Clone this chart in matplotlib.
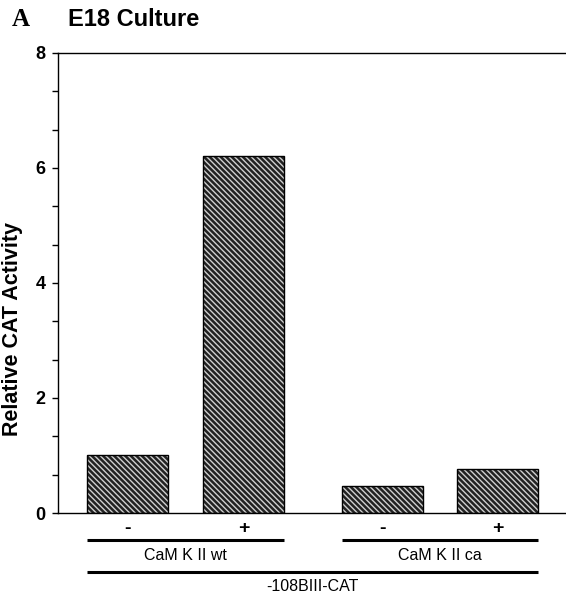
import matplotlib.pyplot as plt
import matplotlib.transforms as mtransforms
from matplotlib.ticker import MultipleLocator

plt.rcParams["font.family"] = ["Liberation Sans", "DejaVu Sans"]

# data
treatment = ["-", "+", "-", "+"]
groups = ["CaM K II wt", "CaM K II ca"]
activity = [1.0, 6.2, 0.47, 0.77]
positions = [0.0, 1.0, 2.2, 3.19]
group_members = [[0, 1], [2, 3]]
construct = "-108BIII-CAT"

fig = plt.figure(figsize=(5.66, 6.0), dpi=100)
ax = fig.add_axes([0.1025, 0.145, 0.8975, 0.767])

width = 0.7
# hatched fill first, then plain black outline on top
ax.bar(positions, activity, width=width, color="#222222", edgecolor="#d0d0d0",
       hatch="\\\\\\\\\\\\", linewidth=0)
ax.bar(positions, activity, width=width, color="none", edgecolor="black", linewidth=1.0)

ax.set_xlim(-0.6, 3.78)
ax.set_ylim(0, 8)
ax.set_xticks([])
ax.yaxis.set_major_locator(MultipleLocator(2))
ax.yaxis.set_minor_locator(MultipleLocator(2 / 3))
ax.tick_params(axis="y", which="major", length=4, width=1, labelsize=13, pad=5)
ax.tick_params(axis="y", which="minor", length=4, width=1)
for lab in ax.get_yticklabels():
    lab.set_fontweight("bold")
ax.spines["right"].set_visible(False)
for s in ["left", "top", "bottom"]:
    ax.spines[s].set_linewidth(1.0)

ax.set_ylabel("Relative CAT Activity", fontsize=15.5, fontweight="bold")
ax.yaxis.label.set_va("center")
ax.yaxis.set_label_coords(-0.089, 0.40)

trans = mtransforms.blended_transform_factory(ax.transData, ax.transAxes)
for x, t in zip(positions, treatment):
    ax.text(x, -0.033, t, transform=trans, ha="center", va="center",
            fontsize=14, fontweight="bold")

for name, idx in zip(groups, group_members):
    x0 = positions[idx[0]] - width / 2
    x1 = positions[idx[-1]] + width / 2
    ax.plot([x0, x1], [-0.059, -0.059], transform=trans, color="black",
            linewidth=2.2, clip_on=False, solid_capstyle="butt")
    ax.text((x0 + x1) / 2, -0.092, name, transform=trans, ha="center",
            va="center", fontsize=11.5)

x0 = positions[0] - width / 2
x1 = positions[-1] + width / 2
ax.plot([x0, x1], [-0.128, -0.128], transform=trans, color="black",
        linewidth=2.2, clip_on=False, solid_capstyle="butt")
ax.text((x0 + x1) / 2, -0.160, construct, transform=trans, ha="center",
        va="center", fontsize=11.5)

fig.text(0.021, 0.967, "A", family="Liberation Serif", fontweight="bold",
         fontsize=18, va="center")
fig.text(0.12, 0.967, "E18 Culture", fontweight="bold", fontsize=17, va="center")

fig.savefig("out.png", dpi=100)
